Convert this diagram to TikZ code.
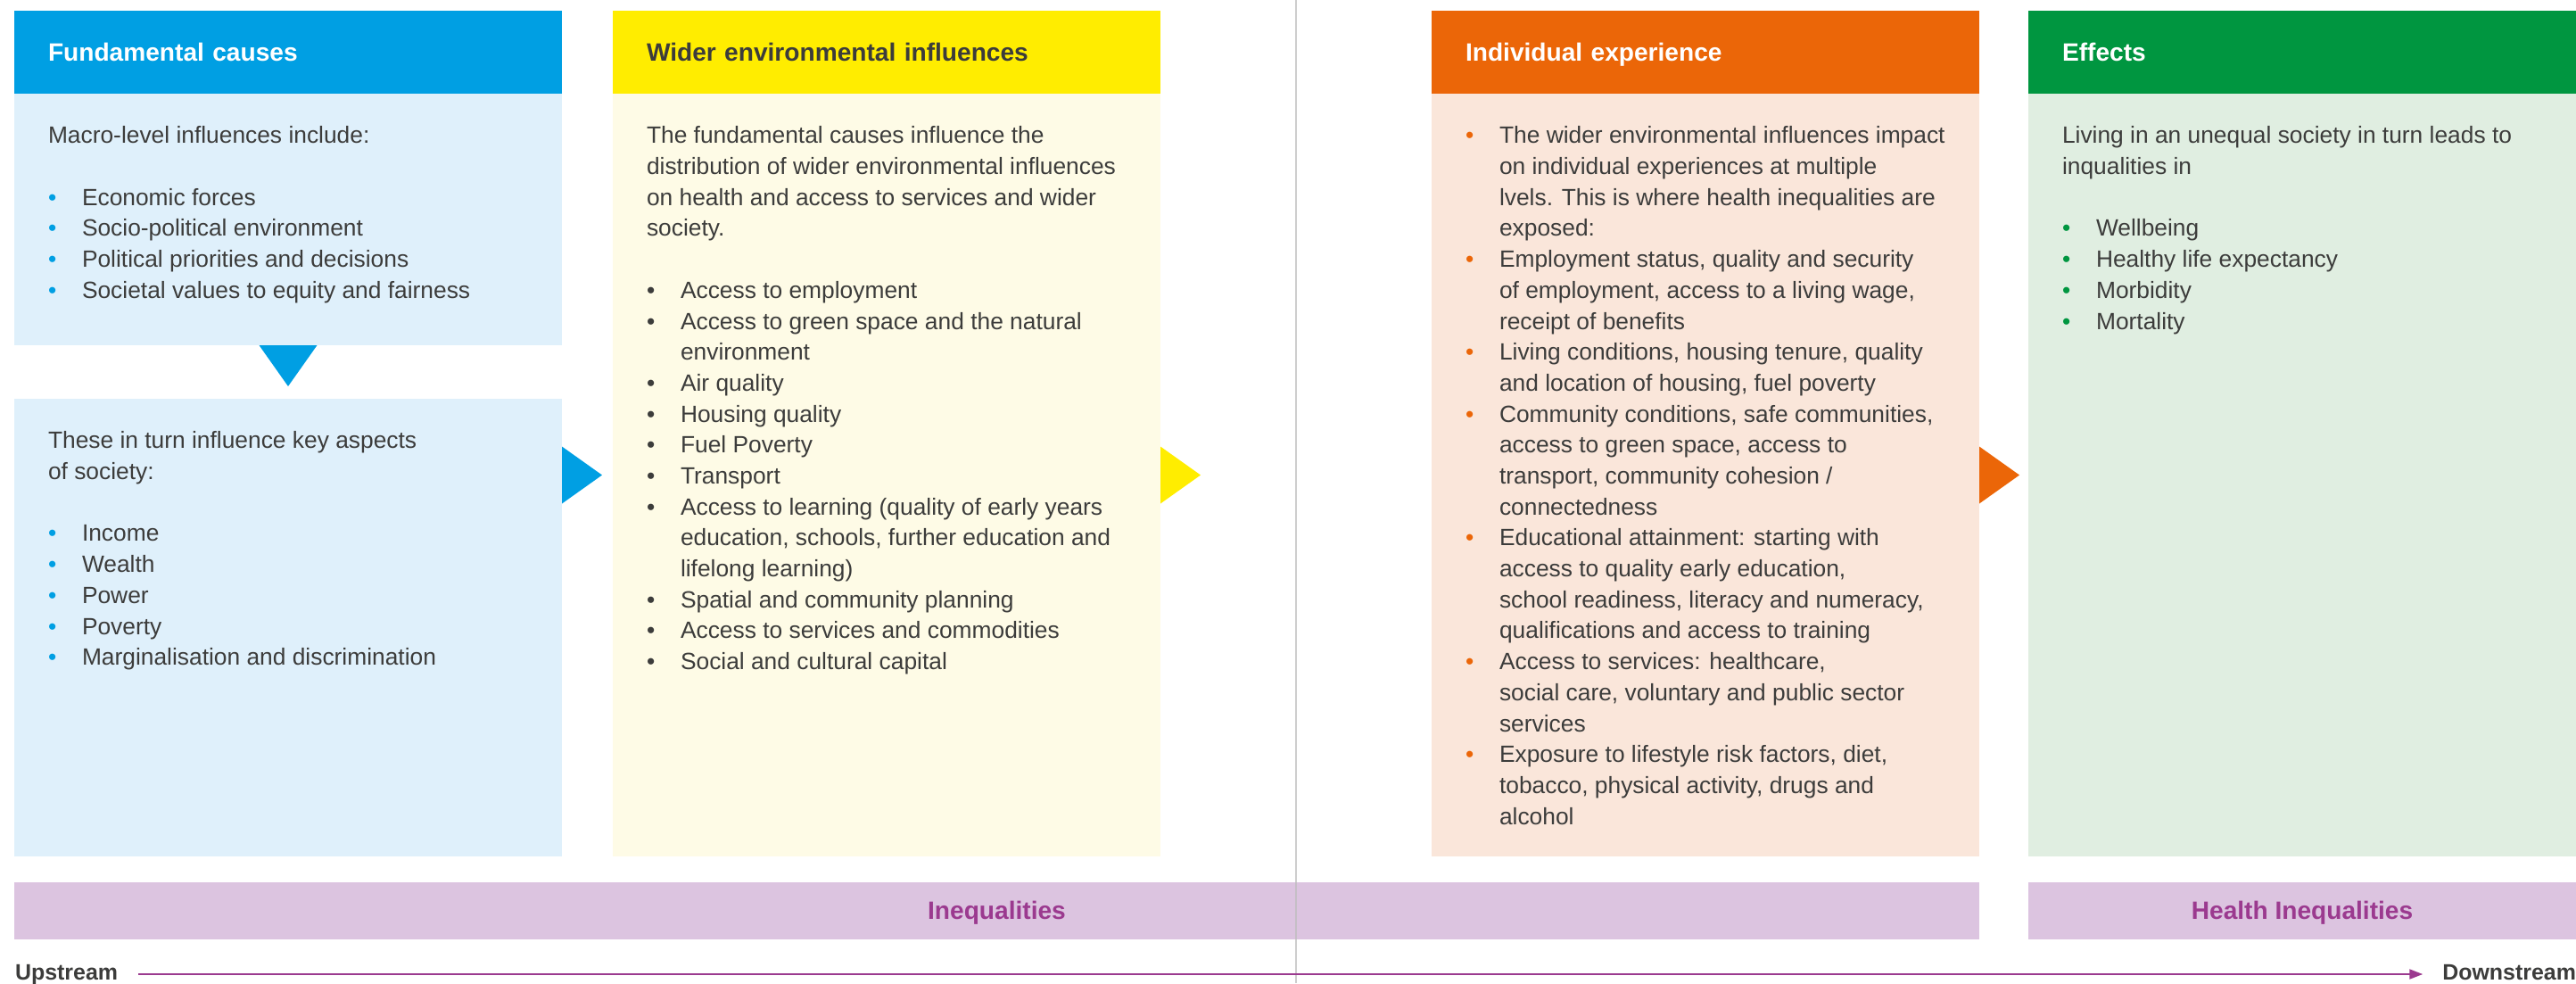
\documentclass[tikz,border=0pt]{standalone}
\usepackage{fontspec}
\setmainfont{Liberation Sans}
\usepackage{xcolor}
\usepackage{tikz}
\usetikzlibrary{positioning,calc,arrows.meta}

\definecolor{fcblue}{HTML}{009FE3}
\definecolor{fcbluelight}{HTML}{DFF0FB}
\definecolor{weyellow}{HTML}{FFED00}
\definecolor{weyellowlight}{HTML}{FEFBE6}
\definecolor{ieorange}{HTML}{EB6608}
\definecolor{ieorangelight}{HTML}{FAE6DA}
\definecolor{efgreen}{HTML}{009640}
\definecolor{efgreenlight}{HTML}{E0EEE1}
\definecolor{barpurple}{HTML}{DCC4E0}
\definecolor{inkpurple}{HTML}{9B3A8F}
\definecolor{textgrey}{HTML}{3C3C3B}
\definecolor{divgrey}{HTML}{BEBEBE}

\newcommand{\bul}[1]{\makebox[3.8mm][l]{\textcolor{#1}{\textbullet}}}
\newcommand{\contd}{\hspace*{3.8mm}}

\begin{document}
\begin{tikzpicture}[x=1mm, y=1mm,
    headbox/.style={anchor=north west, minimum width=61.4mm, minimum height=9.3mm,
        inner xsep=3.8mm, inner ysep=0pt, outer sep=0pt, text width=53.8mm, align=left,
        text height=2.2mm, text depth=0.3mm,
        font=\fontsize{8pt}{9.6pt}\selectfont\bfseries},
    bodybox/.style={anchor=north west, minimum width=61.4mm, inner sep=0pt, outer sep=0pt},
    bodytext/.style={anchor=north west, inner sep=0pt, outer sep=0pt, align=left, text=textgrey,
        font=\fontsize{7.5pt}{9.87pt}\selectfont},
    bar/.style={anchor=north west, minimum height=6.4mm, inner sep=0pt, outer sep=0pt, fill=barpurple,
        text=inkpurple, text height=2.2mm, text depth=0.3mm,
        font=\fontsize{8pt}{9.6pt}\selectfont\bfseries},
    streamlabel/.style={inner sep=0pt, outer sep=0pt, text=textgrey, text height=1.8mm, text depth=0.5mm,
        font=\fontsize{7.1pt}{8.5pt}\selectfont\bfseries}]

    \useasboundingbox (0,0) rectangle (288.8,-110.2);

    % Fundamental causes
    \node[headbox, fill=fcblue, text=white] (fundhead) at (1.6,-1.2) {Fundamental causes};
    \node[bodybox, fill=fcbluelight, minimum height=28.2mm] (fundtop) at (fundhead.south west) {};
    \node[bodybox, fill=fcbluelight, minimum height=51.3mm, below=6mm of fundtop] (fundlow) {};
    \node[bodytext, below right=3.16mm and 3.8mm of fundtop.north west] (macrotext) {\strut Macro-level influences include:\\[9.87pt]
        \bul{fcblue}Economic forces\\
        \bul{fcblue}Socio-political environment\\
        \bul{fcblue}Political priorities and decisions\\
        \bul{fcblue}Societal values to equity and fairness};
    \node[bodytext, below right=3.16mm and 3.8mm of fundlow.north west] (societytext) {\strut These in turn influence key aspects\\
        of society:\\[9.87pt]
        \bul{fcblue}Income\\
        \bul{fcblue}Wealth\\
        \bul{fcblue}Power\\
        \bul{fcblue}Poverty\\
        \bul{fcblue}Marginalisation and discrimination};
    \fill[fcblue] ([xshift=-3.25mm]fundtop.south) -- ([xshift=3.25mm]fundtop.south) -- ([yshift=-4.6mm]fundtop.south) -- cycle;

    % Wider environmental influences
    \node[headbox, fill=weyellow, text=textgrey, right=5.7mm of fundhead] (widerhead) {Wider environmental influences};
    \node[bodybox, fill=weyellowlight, minimum height=85.5mm] (widerbody) at (widerhead.south west) {};
    \node[bodytext, below right=3.16mm and 3.8mm of widerbody.north west] (widertext) {\strut The fundamental causes influence the\\
        distribution of wider environmental influences\\
        on health and access to services and wider\\
        society.\\[9.87pt]
        \bul{textgrey}Access to employment\\
        \bul{textgrey}Access to green space and the natural\\
        \contd environment\\
        \bul{textgrey}Air quality\\
        \bul{textgrey}Housing quality\\
        \bul{textgrey}Fuel Poverty\\
        \bul{textgrey}Transport\\
        \bul{textgrey}Access to learning (quality of early years\\
        \contd education, schools, further education and\\
        \contd lifelong learning)\\
        \bul{textgrey}Spatial and community planning\\
        \bul{textgrey}Access to services and commodities\\
        \bul{textgrey}Social and cultural capital};

    % Individual experience
    \node[headbox, fill=ieorange, text=white, right=30.4mm of widerhead] (indivhead) {Individual experience};
    \node[bodybox, fill=ieorangelight, minimum height=85.5mm] (indivbody) at (indivhead.south west) {};
    \node[bodytext, below right=3.16mm and 3.8mm of indivbody.north west] (indivtext) {\strut\bul{ieorange}The wider environmental influences impact\\
        \contd on individual experiences at multiple\\
        \contd lvels. This is where health inequalities are\\
        \contd exposed:\\
        \bul{ieorange}Employment status, quality and security\\
        \contd of employment, access to a living wage,\\
        \contd receipt of benefits\\
        \bul{ieorange}Living conditions, housing tenure, quality\\
        \contd and location of housing, fuel poverty\\
        \bul{ieorange}Community conditions, safe communities,\\
        \contd access to green space, access to\\
        \contd transport, community cohesion /\\
        \contd connectedness\\
        \bul{ieorange}Educational attainment: starting with\\
        \contd access to quality early education,\\
        \contd school readiness, literacy and numeracy,\\
        \contd qualifications and access to training\\
        \bul{ieorange}Access to services: healthcare,\\
        \contd social care, voluntary and public sector\\
        \contd services\\
        \bul{ieorange}Exposure to lifestyle risk factors, diet,\\
        \contd tobacco, physical activity, drugs and\\
        \contd alcohol};

    % Effects
    \node[headbox, fill=efgreen, text=white, right=5.5mm of indivhead] (effectshead) {Effects};
    \node[bodybox, fill=efgreenlight, minimum height=85.5mm] (effectsbody) at (effectshead.south west) {};
    \node[bodytext, below right=3.16mm and 3.8mm of effectsbody.north west] (effectstext) {\strut Living in an unequal society in turn leads to\\
        inqualities in\\[9.87pt]
        \bul{efgreen}Wellbeing\\
        \bul{efgreen}Healthy life expectancy\\
        \bul{efgreen}Morbidity\\
        \bul{efgreen}Mortality};

    % arrows between columns
    \foreach \src/\col in {fundlow/fcblue, widerbody/weyellow, indivbody/ieorange} {
        \fill[\col] (\src.east |- widerbody.east) ++(0,3.2) -- ++(0,-6.4) -- ++(4.5,3.2) -- cycle;
    }

    % Inequalities bars
    \node[bar, minimum width=220.3mm, below right=2.85mm and 0mm of fundlow.south west] (ineqbar) {Inequalities};
    \node[bar, minimum width=61.4mm, below=2.85mm of effectsbody] (healthbar) {Health Inequalities};

    % divider between the two halves
    \coordinate (midgap) at ($(widerhead.east)!0.5!(indivhead.west)$);
    \draw[divgrey, line width=0.2mm, opacity=0.75] (midgap |- 0,0) -- (midgap |- 0,-110.2);

    % Upstream to downstream
    \node[streamlabel, anchor=west] (upstream) at (1.7,-109.2) {Upstream};
    \node[streamlabel, anchor=east] (downstream) at (288.8,-109.2) {Downstream};
    \draw[inkpurple, line width=0.2mm, -{Triangle[length=1.5mm, width=1.1mm]},
        shorten <=2.3mm, shorten >=2.2mm] (upstream) -- (downstream);
\end{tikzpicture}
\end{document}
